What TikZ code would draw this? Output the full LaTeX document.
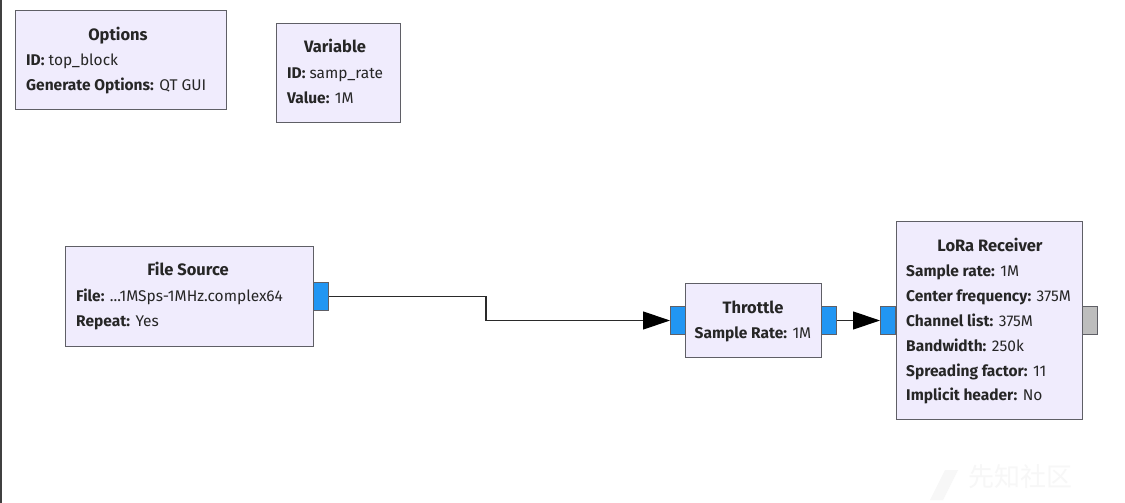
\documentclass[tikz,border=0pt]{standalone}
\usepackage{fontspec}
\setmainfont{Fira Sans}
\newfontfamily\cjk{Noto Sans CJK SC}
\usetikzlibrary{arrows.meta}
\definecolor{blockfill}{HTML}{F0ECFD}
\definecolor{blockdraw}{HTML}{5F5F66}
\definecolor{portblue}{HTML}{2196F3}
\definecolor{portgray}{HTML}{BDBDBD}
\definecolor{wire}{HTML}{2A2A2A}
\begin{document}
\begin{tikzpicture}[x=1pt,y=-1pt,
  blockbox/.style={draw=blockdraw,line width=1.3pt,fill=blockfill,inner sep=0,anchor=north west},
  portbox/.style={draw=blockdraw,line width=1pt,fill=portblue,inner sep=0,minimum width=15pt,minimum height=28pt,anchor=north west},
  gport/.style={portbox,fill=portgray},
  ttl/.style={font=\fontsize{16.5}{18}\selectfont\bfseries,text=black!85,inner sep=0,anchor=mid,yshift=-3pt},
  prm/.style={font=\fontsize{15.5}{17}\selectfont,text=black!85,inner sep=0,anchor=mid west,yshift=-2.5pt},
  conn/.style={draw=wire,line width=1.2pt},
  tip/.style={-{Triangle[length=27pt,width=18pt,fill=black,color=black]}}
]
\useasboundingbox (0,0) rectangle (1125,503);
\fill[white] (0,0) rectangle (1125,503);
\draw[line width=2pt,black!75] (1,0) -- (1,503);
% watermark
\node[font=\cjk\fontsize{26}{28}\selectfont,text=black!3,anchor=mid west,inner sep=0] (wm) at (968,484) {先知社区};
\fill[black!3] (930,500) -- (945,470) -- (958,470) -- (943,500) -- cycle;

% Options
\node[blockbox,minimum width=211pt,minimum height=99pt] (opt) at (15,10) {};
\node[ttl] (optt) at (118,35) {Options};
\node[prm] (opt1) at (26,60) {\textbf{ID:} top\_block};
\node[prm] (opt2) at (26,85) {\textbf{Generate Options:} QT GUI};

% Variable
\node[blockbox,minimum width=124pt,minimum height=99pt] (var) at (276,23) {};
\node[ttl] (vart) at (335,47) {Variable};
\node[prm] (var1) at (287,73) {\textbf{ID:} samp\_rate};
\node[prm] (var2) at (287,98) {\textbf{Value:} 1M};

% File Source
\node[blockbox,minimum width=248pt,minimum height=100pt] (fs) at (65,246) {};
\node[ttl] (fst) at (188,270) {File Source};
\node[prm] (fs1) at (76,296) {\textbf{File:} ...1MSps-1MHz.complex64};
\node[prm] (fs2) at (76,321) {\textbf{Repeat:} Yes};
\node[portbox] (fsout) at (313,282) {};

% Throttle
\node[blockbox,minimum width=136pt,minimum height=74pt] (thr) at (685,283) {};
\node[ttl] (thrt) at (753,308) {Throttle};
\node[prm,anchor=mid] (thr1) at (753,333) {\textbf{Sample Rate:} 1M};
\node[portbox] (thrin) at (670,306) {};
\node[portbox] (throut) at (821,306) {};

% LoRa Receiver
\node[blockbox,minimum width=186pt,minimum height=198pt] (lora) at (896,221) {};
\node[ttl] (lorat) at (990,246) {LoRa Receiver};
\node[prm] (lora1) at (906,271) {\textbf{Sample rate:} 1M};
\node[prm] (lora2) at (906,296) {\textbf{Center frequency:} 375M};
\node[prm] (lora3) at (906,321) {\textbf{Channel list:} 375M};
\node[prm] (lora4) at (906,346) {\textbf{Bandwidth:} 250k};
\node[prm] (lora5) at (906,371) {\textbf{Spreading factor:} 11};
\node[prm] (lora6) at (906,395) {\textbf{Implicit header:} No};
\node[portbox] (lorain) at (880,306) {};
\node[gport] (loraout) at (1082,306) {};

% connections
\draw[conn,tip] (fsout.east) -- ++(157,0) |- (thrin.west);
\draw[conn,tip] (throut.east) -- (lorain.west);
\end{tikzpicture}
\end{document}
